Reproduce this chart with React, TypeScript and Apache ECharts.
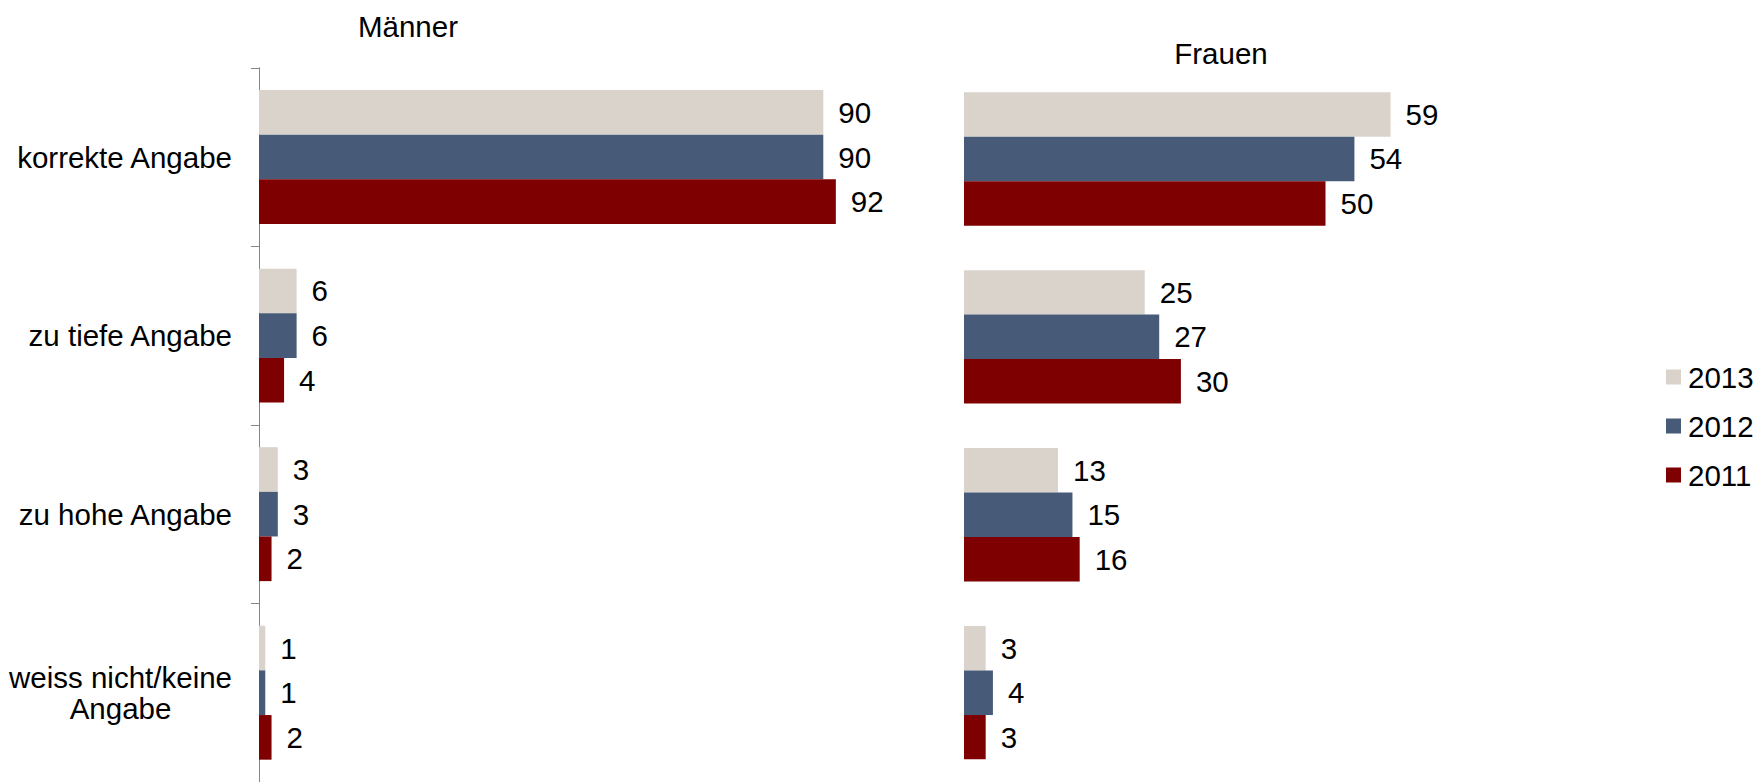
import React, { useEffect, useRef } from 'react';
import * as echarts from 'echarts';

const categories = ['korrekte Angabe', 'zu tiefe Angabe', 'zu hohe Angabe', 'weiss nicht/keine\nAngabe'];
const years = ['2013', '2012', '2011'];
const yearColors = ['#DAD3CC', '#475B78', '#7F0000'];
const maenner2013 = [90, 6, 3, 1];
const maenner2012 = [90, 6, 3, 1];
const maenner2011 = [92, 4, 2, 2];
const frauen2013 = [59, 25, 13, 3];
const frauen2012 = [54, 27, 15, 4];
const frauen2011 = [50, 30, 16, 3];
const panelTitles = ['Männer', 'Frauen'];

const FONT = '"Liberation Sans", Arial, sans-serif';
const FS = 29.5;

export default function App() {
  const ref = useRef<HTMLDivElement>(null);
  useEffect(() => {
    document.body.style.margin = '0';
    const chart = echarts.init(ref.current!, null, { renderer: 'svg' });
    const maenner = [maenner2013, maenner2012, maenner2011];
    const frauen = [frauen2013, frauen2012, frauen2011];
    const label = {
      show: true,
      position: 'right',
      distance: 15,
      color: '#000',
      fontSize: FS,
      fontFamily: FONT,
    };
    const series: any[] = [];
    years.forEach((y, i) => {
      series.push({
        name: y,
        type: 'bar',
        xAxisIndex: 0,
        yAxisIndex: 0,
        data: maenner[i],
        barGap: '0%',
        barCategoryGap: '25%',
        itemStyle: { color: yearColors[i] },
        label,
      });
    });
    years.forEach((y, i) => {
      series.push({
        name: y,
        type: 'bar',
        xAxisIndex: 1,
        yAxisIndex: 1,
        data: frauen[i],
        barGap: '0%',
        barCategoryGap: '25%',
        itemStyle: { color: yearColors[i] },
        label,
      });
    });
    chart.setOption({
      animation: false,
      textStyle: { fontFamily: FONT },
      grid: [
        { left: 259, top: 67.75, width: 627, height: 718 },
        { left: 964, top: 70, width: 433.8, height: 711.6 },
      ],
      xAxis: [
        { gridIndex: 0, type: 'value', min: 0, max: 100, show: false },
        { gridIndex: 1, type: 'value', min: 0, max: 60, show: false },
      ],
      yAxis: [
        {
          gridIndex: 0,
          type: 'category',
          inverse: true,
          data: categories,
          axisLine: { show: true, lineStyle: { color: '#868686', width: 1 } },
          axisTick: { show: true, length: 8, lineStyle: { color: '#868686' } },
          axisLabel: {
            margin: 27,
            color: '#000',
            fontSize: FS,
            fontFamily: FONT,
            lineHeight: 31,
            formatter: (v: string) =>
              v.indexOf('\n') >= 0 ? v.split('\n').map((l) => `{c|${l}}`).join('\n') : v,
            rich: {
              c: { width: 223, align: 'center', fontSize: FS, fontFamily: FONT, color: '#000', lineHeight: 31 },
            },
          },
          splitLine: { show: false },
        },
        {
          gridIndex: 1,
          type: 'category',
          inverse: true,
          data: categories,
          show: false,
        },
      ],
      legend: {
        orient: 'vertical',
        left: 1661,
        top: 357,
        itemWidth: 15,
        itemHeight: 15,
        itemGap: 19,
        icon: 'rect',
        data: years,
        textStyle: { fontSize: FS, fontFamily: FONT, color: '#000', padding: [0, 0, 0, 2] },
      },
      graphic: [
        {
          type: 'text',
          x: 408,
          y: 26,
          style: { text: panelTitles[0], fontSize: FS, fontFamily: FONT, fill: '#000', align: 'center', verticalAlign: 'middle' },
        },
        {
          type: 'text',
          x: 1221,
          y: 53,
          style: { text: panelTitles[1], fontSize: FS, fontFamily: FONT, fill: '#000', align: 'center', verticalAlign: 'middle' },
        },
      ],
      series,
    });
    return () => chart.dispose();
  }, []);
  return <div ref={ref} style={{ width: 1758, height: 782 }} />;
}
